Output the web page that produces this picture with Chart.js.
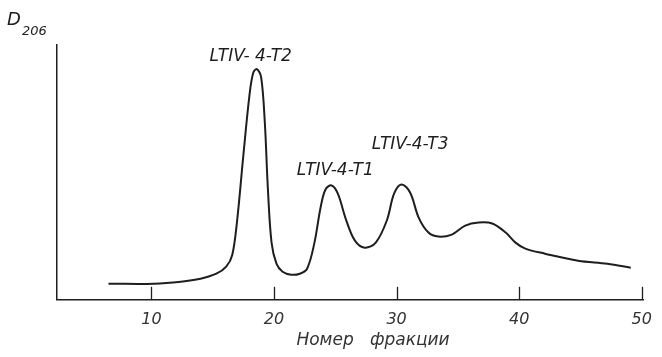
<!DOCTYPE html>
<html>
<head>
<meta charset="utf-8">
<script src="https://cdn.jsdelivr.net/npm/chart.js@4"></script>
<style>
  html, body { margin: 0; padding: 0; background: #fff; }
  #wrap { width: 662px; height: 357px; }
</style>
</head>
<body>
<div id="wrap"><canvas id="c" width="662" height="357"></canvas></div>
<script>
// --- data ---
const fractions = [6.5, 10.2, 12.4, 14.0, 15.3, 16.1, 16.6, 17.0, 17.5, 18.0, 18.3, 18.6, 18.95, 19.25, 19.5, 19.8, 20.2, 20.7, 21.4, 22.1, 22.7, 23.3, 23.8, 24.2, 24.7, 25.2, 25.9, 26.6, 27.4, 28.3, 29.2, 29.8, 30.4, 31.1, 31.8, 32.6, 33.4, 34.5, 35.6, 36.7, 37.8, 38.9, 39.7, 40.5, 42.1, 44.8, 47.2, 49.1];
const d206      = [0.16, 0.16, 0.18, 0.21, 0.26, 0.33, 0.45, 0.80, 1.44, 2.04, 2.26, 2.30, 2.22, 1.77, 1.11, 0.57, 0.36, 0.28, 0.25, 0.26, 0.31, 0.57, 0.92, 1.10, 1.14, 1.06, 0.79, 0.59, 0.52, 0.57, 0.79, 1.06, 1.15, 1.07, 0.82, 0.67, 0.63, 0.65, 0.74, 0.77, 0.76, 0.67, 0.57, 0.51, 0.46, 0.39, 0.36, 0.32];

const xTicks = [10, 20, 30, 40, 50];

const peakLabels = ['LTIV- 4-T2', 'LTIV-4-T1', 'LTIV-4-T3'];
const peakLabelX = [18.1, 25.0, 31.1];
const peakLabelY = [2.42, 1.29, 1.55];

const ink  = '#1e1e1e';
const font = '"DejaVu Sans", sans-serif';

// inward tick marks, peak names, axis titles
const decorations = {
  id: 'decorations',
  afterDatasetsDraw(chart) {
    const { ctx, scales: { x, y }, chartArea } = chart;
    ctx.save();
    ctx.strokeStyle = ink;
    ctx.lineWidth = 1.3;
    xTicks.forEach(t => {
      const px = Math.round(x.getPixelForValue(t)) + 0.5;
      ctx.beginPath();
      ctx.moveTo(px, chartArea.bottom);
      ctx.lineTo(px, chartArea.bottom - 13);
      ctx.stroke();
    });

    ctx.fillStyle = ink;
    ctx.textAlign = 'center';
    ctx.textBaseline = 'middle';
    ctx.font = 'italic 300 17px ' + font;
    peakLabels.forEach((txt, i) => {
      ctx.fillText(txt, x.getPixelForValue(peakLabelX[i]), y.getPixelForValue(peakLabelY[i]));
    });

    ctx.fillStyle = '#333';
    ctx.fillText('Номер   фракции', 373, 341);

    ctx.fillStyle = ink;
    ctx.textAlign = 'left';
    ctx.font = 'italic 18px ' + font;
    ctx.fillText('D', 7, 20);
    ctx.font = 'italic 13px ' + font;
    ctx.fillText('206', 22, 32);
    ctx.restore();
  }
};

new Chart(document.getElementById('c'), {
  type: 'line',
  data: {
    datasets: [{
      data: fractions.map((f, i) => ({ x: f, y: d206[i] })),
      borderColor: ink,
      borderWidth: 2,
      pointRadius: 0,
      fill: false,
      tension: 0.35
    }]
  },
  options: {
    responsive: false,
    animation: false,
    layout: { padding: { left: 57, right: 10, top: 45, bottom: 18 } },
    plugins: {
      legend: { display: false },
      tooltip: { enabled: false }
    },
    scales: {
      x: {
        type: 'linear',
        min: 2.3,
        max: 50.1,
        afterBuildTicks: axis => { axis.ticks = xTicks.map(v => ({ value: v })); },
        grid: { display: true, drawOnChartArea: false, drawTicks: false },
        border: { display: true, color: ink, width: 1.5 },
        ticks: {
          padding: 10,
          color: '#333',
          font: { family: font, size: 16, style: 'italic', weight: '300' }
        }
      },
      y: {
        min: 0,
        max: 2.54,
        grid: { display: true, drawOnChartArea: false, drawTicks: false },
        border: { display: true, color: ink, width: 1.5 },
        ticks: { display: false }
      }
    }
  },
  plugins: [decorations]
});
</script>
</body>
</html>
